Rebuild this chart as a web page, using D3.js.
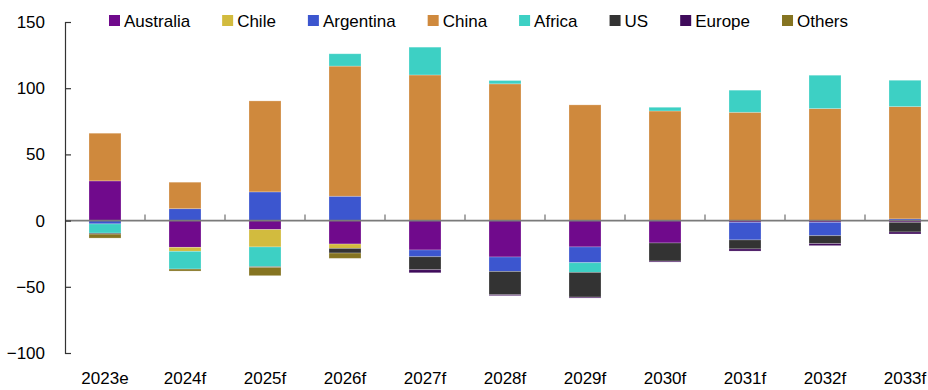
<!DOCTYPE html>
<html>
<head>
<meta charset="utf-8">
<script src="https://cdn.jsdelivr.net/npm/d3@7"></script>
<style>
  html, body { margin: 0; padding: 0; background: #fff; }
  svg { display: block; font-family: "Liberation Sans", Arial, sans-serif; }
</style>
</head>
<body>
<div id="chart"></div>
<script>
// years on the x axis
const years = ["2023e", "2024f", "2025f", "2026f", "2027f", "2028f", "2029f", "2030f", "2031f", "2032f", "2033f"];

// one array per region, same order as years
const australia = [30, -20.2, -6.8, -17.7, -22.2, -27.5, -19.9, -16.9, -1.3, -1.3, -1.3];
const chile     = [0, -3, -13.1, -3.3, 0, 0, 0, 0, 0, 0, 0];
const argentina = [-2.5, 9, 21.7, 18.4, -5.1, -10.9, -11.9, 0, -13.3, -10.1, 1.3];
const china     = [36, 20, 68.7, 98.3, 110, 103.3, 87.4, 82.8, 81.8, 84.6, 84.8];
const africa    = [-7, -13.4, -14.9, 9.3, 21, 2.5, -7.3, 2.8, 16.7, 25.2, 19.9];
const us        = [-0.7, 0, -0.5, -3.5, -9.8, -17.6, -18.7, -13.7, -6.8, -6, -7.3];
const europe    = [0, 0, 0, 0, -2.3, -0.7, -0.7, -0.7, -1.6, -1.5, -1.5];
const others    = [-3, -1.5, -6.3, -4, 0, 0, 0, 0, 0, 0, 0];

const seriesNames = ["Australia", "Chile", "Argentina", "China", "Africa", "US", "Europe", "Others"];
const seriesValues = [australia, chile, argentina, china, africa, us, europe, others];
const colors = ["#700a8c", "#d2bb3e", "#3c56cf", "#cf893d", "#3dd0c4", "#333333", "#3f0b5b", "#857421"];

const yTicks = [-100, -50, 0, 50, 100, 150];

const W = 928, H = 390;
const plotLeft = 65, plotTop = 22, plotBottom = 353;

const rows = years.map((yr, i) => {
  const r = { year: yr };
  seriesNames.forEach((s, j) => { r[s] = seriesValues[j][i]; });
  return r;
});

const stack = d3.stack().keys(seriesNames).offset(d3.stackOffsetDiverging);
const layers = stack(rows);

const x = d3.scaleBand().domain(years).range([plotLeft, plotLeft + 80 * years.length])
  .paddingInner(0.6).paddingOuter(0.3);
const y = d3.scaleLinear().domain([-100, 150]).range([plotBottom, plotTop]);
const color = d3.scaleOrdinal().domain(seriesNames).range(colors);

const svg = d3.select("#chart").append("svg")
  .attr("width", W).attr("height", H);

// bars
svg.append("g").selectAll("g")
  .data(layers)
  .join("g")
  .attr("fill", d => color(d.key))
  .selectAll("rect")
  .data(d => d)
  .join("rect")
  .attr("x", d => x(d.data.year))
  .attr("width", x.bandwidth())
  .attr("y", d => y(Math.max(d[0], d[1])))
  .attr("height", d => Math.abs(y(d[0]) - y(d[1])))
  .attr("stroke", "rgba(255,255,255,0.3)")
  .attr("stroke-width", 0.8);

// zero line with ticks between categories
const zeroG = svg.append("g");
zeroG.append("line")
  .attr("x1", plotLeft).attr("x2", W)
  .attr("y1", y(0)).attr("y2", y(0))
  .attr("stroke", "#7a7a7a").attr("stroke-width", 1.6);
zeroG.selectAll(".sep")
  .data(years.slice(1))
  .join("line")
  .attr("x1", d => x(d) - (x.step() - x.bandwidth()) / 2)
  .attr("x2", d => x(d) - (x.step() - x.bandwidth()) / 2)
  .attr("y1", y(0)).attr("y2", y(0) - 6)
  .attr("stroke", "#7a7a7a").attr("stroke-width", 1.3);

// y axis, ticks pointing inward
const yAxis = svg.append("g")
  .attr("transform", `translate(${plotLeft},0)`)
  .call(d3.axisLeft(y).tickValues(yTicks).tickSizeInner(-6).tickSizeOuter(-6).tickPadding(20));
yAxis.select(".domain").attr("stroke", "#333").attr("stroke-width", 1.2);
yAxis.selectAll(".tick line").attr("stroke", "#333").attr("stroke-width", 1.2);
yAxis.selectAll(".tick text").attr("font-size", 17).attr("fill", "#000")
  .attr("font-family", "Liberation Sans, Arial, sans-serif");

// x labels
const xAxis = svg.append("g")
  .attr("transform", `translate(0,${plotBottom})`)
  .call(d3.axisBottom(x).tickSize(0).tickPadding(19));
xAxis.select(".domain").remove();
xAxis.selectAll(".tick text").attr("font-size", 17).attr("fill", "#000")
  .attr("font-family", "Liberation Sans, Arial, sans-serif");

// legend
const legend = svg.append("g").attr("transform", "translate(109,0)");
let lx = 0;
seriesNames.forEach((name, i) => {
  const item = legend.append("g").attr("transform", `translate(${lx},0)`);
  item.append("rect")
    .attr("x", 0).attr("y", 15).attr("width", 11).attr("height", 11)
    .attr("fill", color(name));
  const t = item.append("text")
    .attr("x", 15).attr("y", 27)
    .attr("font-size", 17).attr("fill", "#000")
    .text(name);
  lx += 15 + t.node().getComputedTextLength() + 32;
});
</script>
</body>
</html>
